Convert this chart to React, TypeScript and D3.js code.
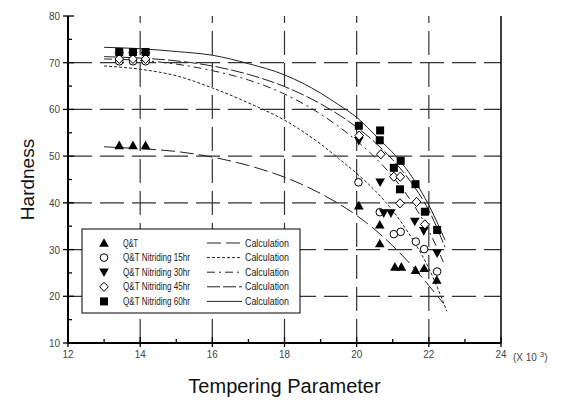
import React from "react";
import * as d3 from "d3";

// ---------- data ----------
const xTicks = [12, 14, 16, 18, 20, 22, 24];
const yTicks = [10, 20, 30, 40, 50, 60, 70, 80];
const xMinor = [13, 15, 17, 19, 21, 23];
const yMinor = [15, 25, 35, 45, 55, 65, 75];
const xGrid = [14, 16, 18, 20, 22];
const yGrid = [20, 30, 40, 50, 60, 70];

const seriesNames = ["Q&T", "Q&T Nitriding 15hr", "Q&T Nitriding 30hr", "Q&T Nitriding 45hr", "Q&T Nitriding 60hr"];

// measured points
const qtX = [13.42, 13.8, 14.15, 20.06, 20.64, 20.64, 21.06, 21.24, 21.63, 21.87, 22.22];
const qtY = [52.3, 52.3, 52.3, 39.4, 35.3, 31.3, 26.3, 26.3, 25.6, 26.0, 23.5];
const n15X = [13.42, 13.8, 14.15, 20.05, 20.64, 21.03, 21.22, 21.64, 21.87, 22.23];
const n15Y = [70.3, 70.3, 70.3, 44.4, 38.0, 33.3, 33.8, 31.7, 30.1, 25.3];
const n30X = [13.42, 13.8, 14.15, 20.06, 20.65, 20.75, 20.95, 21.61, 21.86, 22.23];
const n30Y = [71.5, 71.5, 71.5, 53.3, 44.4, 37.8, 37.8, 36.0, 34.0, 29.2];
const n45X = [13.42, 13.8, 14.15, 20.07, 20.67, 21.03, 21.21, 21.2, 21.66, 21.89];
const n45Y = [70.8, 70.8, 70.8, 54.4, 50.4, 45.6, 45.6, 39.9, 40.2, 35.4];
const n60X = [13.42, 13.8, 14.15, 20.06, 20.65, 20.64, 21.22, 21.03, 21.63, 21.2, 21.89, 22.23];
const n60Y = [72.3, 72.3, 72.3, 56.5, 55.5, 53.4, 49.0, 47.5, 44.0, 42.9, 38.1, 34.2];

// calculation curves (read knots)
const cQtX = [13.0, 14, 15, 16, 17, 18, 19, 20, 20.5, 21, 21.5, 22, 22.4];
const cQtY = [52.0, 51.6, 51.0, 49.8, 48.0, 45.5, 42.0, 37.3, 34.3, 30.8, 26.8, 22.3, 18.5];
const c15X = [13.0, 14, 15, 16, 17, 18, 19, 19.5, 20, 20.5, 21, 21.5, 22, 22.5];
const c15Y = [69.3, 68.6, 67.2, 64.6, 61.4, 57.7, 52.6, 49.5, 46.3, 42.7, 38.3, 32.8, 26.0, 16.8];
const c30X = [13.0, 14, 15, 16, 17, 18, 19, 20, 20.5, 21, 21.5, 22, 22.45];
const c30Y = [70.8, 70.5, 69.7, 68.3, 66.3, 63.3, 59.0, 53.3, 49.8, 45.6, 40.5, 34.0, 26.5];
const c45X = [13.0, 14, 15, 16, 17, 18, 19, 20, 20.5, 21, 21.5, 22, 22.45];
const c45Y = [71.3, 71.0, 70.4, 69.3, 67.5, 64.9, 61.2, 56.2, 53.0, 49.2, 44.5, 38.4, 30.5];
const c60X = [13.0, 14, 15, 16, 17, 18, 19, 19.5, 20, 20.6, 21.1, 21.6, 22, 22.45];
const c60Y = [73.3, 73.0, 72.4, 71.6, 69.8, 67.4, 63.5, 61.0, 58.3, 53.8, 49.9, 44.8, 39.5, 32.0];

// ---------- layout ----------
const W = 562, H = 404;
const x = d3.scaleLinear().domain([12, 24]).range([68, 501]);
const y = d3.scaleLinear().domain([10, 80]).range([343, 16]);

const dashes = ["14,5", "3,2", "8,4,2,4", "13,3", ""];
const markers = ["triUp", "circle", "triDown", "diamond", "square"];
const nameLen = [15, 67, 67, 67, 67];

const zip = (xs: number[], ys: number[]) => xs.map((v, i) => [v, ys[i]] as [number, number]);
const pointSets = [zip(qtX, qtY), zip(n15X, n15Y), zip(n30X, n30Y), zip(n45X, n45Y), zip(n60X, n60Y)];
const curveSets = [zip(cQtX, cQtY), zip(c15X, c15Y), zip(c30X, c30Y), zip(c45X, c45Y), zip(c60X, c60Y)];

function Marker({ kind, cx, cy }: { kind: string; cx: number; cy: number }) {
  const s = 4.3;
  switch (kind) {
    case "triUp":
      return <path d={`M${cx},${cy - s - 0.5}L${cx + s + 0.5},${cy + s - 0.5}L${cx - s - 0.5},${cy + s - 0.5}Z`} fill="#000" />;
    case "triDown":
      return <path d={`M${cx},${cy + s + 0.5}L${cx + s + 0.5},${cy - s + 0.5}L${cx - s - 0.5},${cy - s + 0.5}Z`} fill="#000" />;
    case "circle":
      return <circle cx={cx} cy={cy} r={3.8} fill="#fff" stroke="#000" strokeWidth={1} />;
    case "diamond":
      return <path d={`M${cx},${cy - s - 0.3}L${cx + s},${cy}L${cx},${cy + s + 0.3}L${cx - s},${cy}Z`} fill="#fff" stroke="#000" strokeWidth={1} />;
    default:
      return <rect x={cx - 4} y={cy - 4} width={8} height={8} fill="#000" />;
  }
}

export default function App() {
  const line = d3
    .line<[number, number]>()
    .x((d) => x(d[0]))
    .y((d) => y(d[1]))
    .curve(d3.curveMonotoneX);

  const font = "'Liberation Sans', Arial, sans-serif";
  const x0 = x(12), x1 = x(24), y0 = y(10), y1 = y(80);

  const legTop = 229, legBot = 313, legL = 82, legR = 300;
  const rowY = (i: number) => 243 + i * 14.6;

  return (
    <svg width={W} height={H} style={{ position: "absolute", left: 0, top: 0, background: "#fff" }}>
      <rect x={0} y={0} width={W} height={H} fill="#fff" />
      {/* grid */}
      <g stroke="#333" strokeWidth={1.2} strokeDasharray="24,8">
        {xGrid.map((v) => (
          <line key={"gx" + v} x1={x(v)} x2={x(v)} y1={y0} y2={y1} />
        ))}
        {yGrid.map((v) => (
          <line key={"gy" + v} x1={x0} x2={x1} y1={y(v)} y2={y(v)} />
        ))}
      </g>
      {/* curves */}
      <g fill="none" stroke="#222" strokeWidth={1}>
        {curveSets.map((c, i) => (
          <path key={"c" + i} d={line(c) || ""} strokeDasharray={dashes[i] || undefined} />
        ))}
      </g>
      {/* points */}
      <g>
        {pointSets.map((ps, i) =>
          ps.map((p, j) => <Marker key={`m${i}-${j}`} kind={markers[i]} cx={x(p[0])} cy={y(p[1])} />)
        )}
      </g>
      {/* frame */}
      <line x1={x0} x2={x0} y1={y0 + 1} y2={y1} stroke="#000" strokeWidth={2} />
      <line x1={x0 - 1} x2={x1} y1={y0} y2={y0} stroke="#000" strokeWidth={2} />
      <line x1={x1} x2={x1} y1={y0} y2={y1} stroke="#000" strokeWidth={1.5} />
      {/* ticks */}
      <g stroke="#000" strokeWidth={1.3}>
        {xTicks.map((v) => (
          <line key={"tx" + v} x1={x(v)} x2={x(v)} y1={y0 + 4} y2={y0 - 6} />
        ))}
        {xMinor.map((v) => (
          <line key={"mx" + v} x1={x(v)} x2={x(v)} y1={y0} y2={y0 - 4} />
        ))}
        {yTicks.map((v) => (
          <line key={"ty" + v} x1={x0 - 5} x2={x0 + 6} y1={y(v)} y2={y(v)} />
        ))}
        {yMinor.map((v) => (
          <line key={"my" + v} x1={x0} x2={x0 + 4} y1={y(v)} y2={y(v)} />
        ))}
      </g>
      {/* tick labels */}
      <g fontFamily={font} fontSize={11.5} fill="#444">
        {xTicks.map((v) => (
          <text key={"lx" + v} x={x(v)} y={y0 + 15} textAnchor="middle" textLength={11} lengthAdjust="spacingAndGlyphs">
            {v}
          </text>
        ))}
        {yTicks.map((v) => (
          <text key={"ly" + v} x={x0 - 8} y={y(v) + 4} textAnchor="end" textLength={11} lengthAdjust="spacingAndGlyphs">
            {v}
          </text>
        ))}
        <text x={x1 + 12} y={y0 + 18} fontSize={10}>
          (X 10 <tspan dy={-4} fontSize={8}>3</tspan>
          <tspan dy={4}>)</tspan>
        </text>
      </g>
      {/* axis titles */}
      <text x={(x0 + x1) / 2} y={393} textAnchor="middle" fontFamily={font} fontSize={20} fill="#111">
        Tempering Parameter
      </text>
      <text transform={`translate(34,${(y0 + y1) / 2}) rotate(-90)`} textAnchor="middle" fontFamily={font} fontSize={19} fill="#111">
        Hardness
      </text>
      {/* legend */}
      <rect x={legL} y={legTop} width={legR - legL} height={legBot - legTop} fill="#fff" stroke="#000" strokeWidth={1} />
      {seriesNames.map((name, i) => (
        <g key={"leg" + i}>
          <Marker kind={markers[i]} cx={104} cy={rowY(i)} />
          <text
            x={123}
            y={rowY(i) + 3.5}
            fontFamily={font}
            fontSize={10}
            fill="#222"
            textLength={nameLen[i]}
            lengthAdjust="spacingAndGlyphs"
          >
            {name}
          </text>
          <line x1={207} x2={242} y1={rowY(i)} y2={rowY(i)} stroke="#222" strokeWidth={1} strokeDasharray={dashes[i] || undefined} />
          <text x={245} y={rowY(i) + 3.5} fontFamily={font} fontSize={10} fill="#222" textLength={44} lengthAdjust="spacingAndGlyphs">
            Calculation
          </text>
        </g>
      ))}
    </svg>
  );
}
